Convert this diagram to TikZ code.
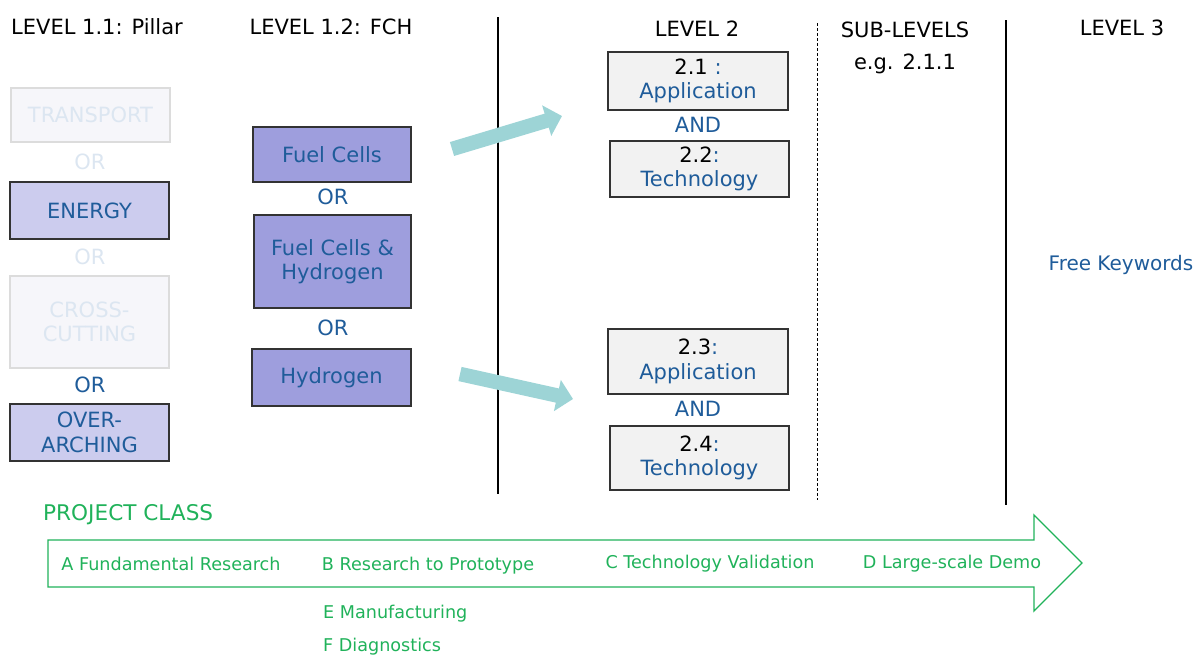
\documentclass[tikz,border=0pt]{standalone}
\usepackage{fontspec}
\setmainfont{DejaVu Sans}
\usetikzlibrary{arrows.meta}
\definecolor{tblue}{HTML}{1F5C9A}
\definecolor{faded}{HTML}{DCE6F1}
\definecolor{fadefill}{HTML}{F6F6FA}
\definecolor{fadeline}{HTML}{DCDCDC}
\definecolor{lav}{HTML}{CCCCEE}
\definecolor{lavdark}{HTML}{9E9EDD}
\definecolor{boxgray}{HTML}{F2F2F2}
\definecolor{pgreen}{HTML}{20B25A}
\definecolor{tealarrow}{HTML}{9DD4D6}
\definecolor{edgegray}{HTML}{333333}
\tikzset{
  txt/.style={inner sep=0pt, font=\fontsize{21}{24.5}\selectfont},
  hdr/.style={txt, text=black},
  bluetxt/.style={txt, text=tblue},
  fadetxt/.style={txt, text=faded},
  gtxt/.style={inner sep=0pt, text=pgreen, font=\fontsize{17.6}{20}\selectfont},
  boxbase/.style={rectangle, inner sep=2pt, align=center, line width=1.4pt, font=\fontsize{21}{24.5}\selectfont},
  fadebox/.style={boxbase, draw=fadeline, fill=fadefill, text=faded},
  pillarbox/.style={boxbase, draw=edgegray, fill=lav, text=tblue},
  fchbox/.style={boxbase, draw=edgegray, fill=lavdark, text=tblue},
  lvlbox/.style={boxbase, draw=edgegray, fill=boxgray, text=tblue},
  vline/.style={line width=1.3pt, black},
  tealarr/.style={draw=tealarrow, line width=14.5pt, -{Triangle[length=16pt,width=31pt]}},
}
\begin{document}
\begin{tikzpicture}[x=1pt,y=-1pt]
\useasboundingbox (0,0) rectangle (1196,657);

% headers
\node[hdr] (h11) at (97,27) {LEVEL 1.1: Pillar};
\node[hdr] (h12) at (331,27) {LEVEL 1.2: FCH};
\node[hdr] (h2) at (697,29) {LEVEL 2};
\node[hdr] (hsub) at (905,30) {SUB-LEVELS};
\node[hdr] (heg) at (905,64) {e.g. 2.1.1};
\node[hdr] (h3) at (1122,28) {LEVEL 3};

% separator lines
\coordinate (s1a) at (498,17); \coordinate (s1b) at (498,494);
\coordinate (s2a) at (817,23); \coordinate (s2b) at (817,500);
\coordinate (s3a) at (1006,20); \coordinate (s3b) at (1006,505);
\draw[vline] (s1a) -- (s1b);
\draw[line width=1pt, black, densely dashed] (s2a) -- (s2b);
\draw[vline] (s3a) -- (s3b);

% pillar column
\node[fadebox, minimum width=159pt, minimum height=54pt] (transport) at (90.5,115) {TRANSPORT};
\node[fadetxt] (or1) at (90,162) {OR};
\node[pillarbox, minimum width=159pt, minimum height=57pt] (energy) at (89.5,210.5) {ENERGY};
\node[fadetxt] (or2) at (90,257) {OR};
\node[fadebox, minimum width=159pt, minimum height=92pt] (cross) at (89.5,322) {CROSS-\\CUTTING};
\node[bluetxt] (or3) at (90,385) {OR};
\node[pillarbox, minimum width=159pt, minimum height=57pt] (over) at (89.5,432.5) {OVER-\\ARCHING};

% FCH column
\node[fchbox, minimum width=158pt, minimum height=55pt] (fc) at (332,154.5) {Fuel Cells};
\node[bluetxt] (or4) at (333,197) {OR};
\node[fchbox, minimum width=157pt, minimum height=93pt] (fch) at (332.5,261.5) {Fuel Cells \&\\Hydrogen};
\node[bluetxt] (or5) at (333,328) {OR};
\node[fchbox, minimum width=159pt, minimum height=57pt] (hyd) at (331.5,377.5) {Hydrogen};

% level 2 column
\node[lvlbox, minimum width=180pt, minimum height=58pt] (l21) at (698,81) {\textcolor{black}{2.1} :\\Application};
\node[bluetxt] (and1) at (698,125) {AND};
\node[lvlbox, minimum width=179pt, minimum height=56pt] (l22) at (699.5,169) {\textcolor{black}{2.2}:\\Technology};
\node[lvlbox, minimum width=180pt, minimum height=65pt] (l23) at (698,361.5) {\textcolor{black}{2.3}:\\Application};
\node[bluetxt] (and2) at (698,409) {AND};
\node[lvlbox, minimum width=179pt, minimum height=64pt] (l24) at (699.5,458) {\textcolor{black}{2.4}:\\Technology};

% level 3
\node[bluetxt, font=\fontsize{20}{24}\selectfont] (free) at (1121,265) {Free Keywords};

% teal arrows
\coordinate (ta1) at (452,149); \coordinate (ta2) at (562,116);
\coordinate (tb1) at (460,374); \coordinate (tb2) at (573,399);
\draw[tealarr] (ta1) -- (ta2);
\draw[tealarr] (tb1) -- (tb2);

% project class
\node[txt, text=pgreen, anchor=west, font=\fontsize{21.6}{25}\selectfont] (pc) at (43,515) {PROJECT CLASS};
\coordinate (p1) at (48,540); \coordinate (p2) at (1034,540);
\coordinate (p3) at (1034,515); \coordinate (p4) at (1082,563);
\coordinate (p5) at (1034,611); \coordinate (p6) at (1034,587);
\coordinate (p7) at (48,587);
\draw[pgreen, line width=1.3pt, line join=miter] (p1) -- (p2) -- (p3) -- (p4) -- (p5) -- (p6) -- (p7) -- cycle;
\node[gtxt] (ca) at (171,564) {A Fundamental Research};
\node[gtxt] (cb) at (428,566) {B Research to Prototype};
\node[gtxt] (cc) at (710,564) {C Technology Validation};
\node[gtxt] (cd) at (952,564) {D Large-scale Demo};
\node[gtxt, anchor=west] (ce) at (323,614) {E Manufacturing};
\node[gtxt, anchor=west] (cf) at (323,647) {F Diagnostics};
\end{tikzpicture}
\end{document}
